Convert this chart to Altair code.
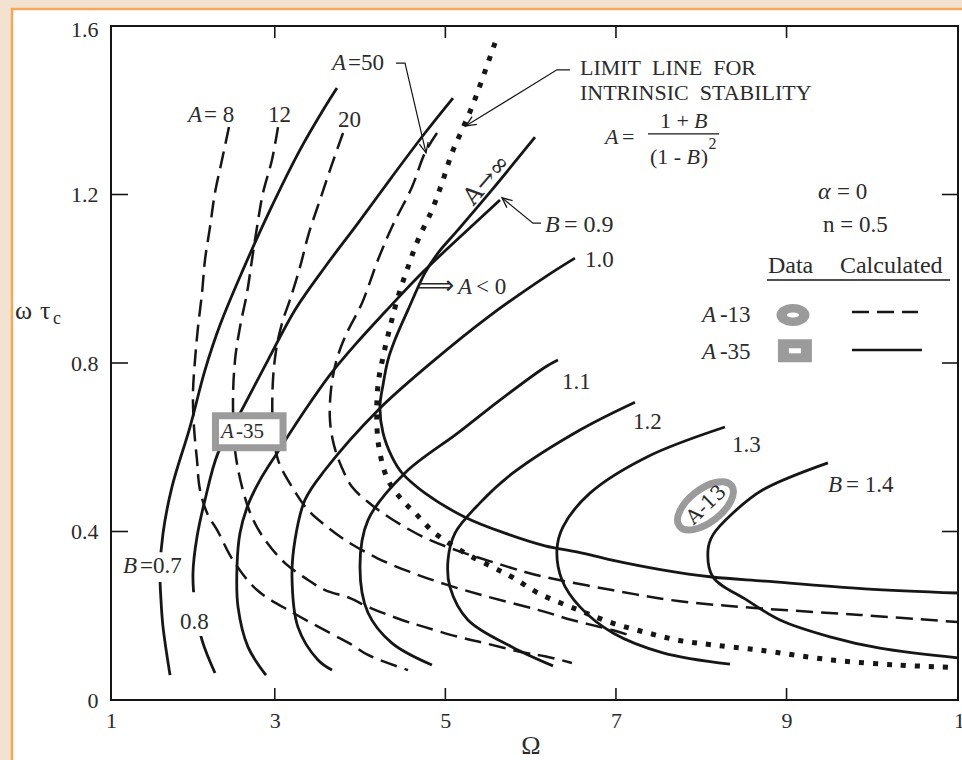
import altair as alt
import pandas as pd

SERIF = "Liberation Serif"
INK = "#161616"
TEXT = "#2b2b2b"
GRAY = "#9b9b9b"
BEIGE = "#f3e2cf"
ORANGE = "#f6a85a"

W, H = 847, 674

# ---- constant-B curves (solid): upper end -> nose -> lower end ----
B07_OMEGA = [3.729, 3.589, 3.296, 2.944, 2.627, 2.358, 2.182, 2.006, 1.795, 1.690, 1.654, 1.666, 1.690, 1.772]
B07_WTC = [1.453, 1.408, 1.306, 1.163, 1.021, 0.890, 0.783, 0.648, 0.506, 0.396, 0.309, 0.237, 0.173, 0.059]

B08_OMEGA = [5.089, 4.761, 4.374, 3.976, 3.589, 3.237, 2.921, 2.569, 2.334, 2.182, 2.088, 2.041, 2.065, 2.147, 2.299]
B08_WTC = [1.429, 1.346, 1.242, 1.132, 1.028, 0.926, 0.807, 0.672, 0.586, 0.475, 0.387, 0.301, 0.226, 0.142, 0.064]

B09_OMEGA = [5.640, 5.171, 4.702, 4.292, 3.940, 3.647, 3.354, 3.026, 2.827, 2.686, 2.592, 2.557, 2.569, 2.686, 2.897]
B09_WTC = [1.187, 1.099, 1.009, 0.921, 0.843, 0.772, 0.688, 0.586, 0.522, 0.463, 0.396, 0.316, 0.221, 0.126, 0.059]

B10_OMEGA = [6.519, 6.168, 5.500, 4.843, 4.210, 3.589, 3.354, 3.237, 3.202, 3.272, 3.507, 3.671]
B10_WTC = [1.049, 1.004, 0.909, 0.802, 0.688, 0.546, 0.475, 0.380, 0.292, 0.173, 0.095, 0.071]

B11_OMEGA = [6.320, 6.168, 5.640, 5.148, 4.527, 4.093, 3.999, 4.093, 4.374, 4.843]
B11_WTC = [0.807, 0.790, 0.712, 0.634, 0.539, 0.427, 0.316, 0.207, 0.135, 0.083]

B12_OMEGA = [7.223, 6.578, 5.793, 5.406, 5.113, 5.031, 5.054, 5.265, 5.781, 6.262]
B12_WTC = [0.707, 0.641, 0.539, 0.468, 0.396, 0.332, 0.268, 0.190, 0.126, 0.081]

B13_OMEGA = [8.278, 7.364, 6.695, 6.379, 6.308, 6.367, 6.578, 6.965, 7.551, 8.337]
B13_WTC = [0.648, 0.577, 0.491, 0.411, 0.356, 0.285, 0.221, 0.159, 0.112, 0.085]

B14_OMEGA = [9.485, 8.723, 8.372, 8.137, 8.079, 8.137, 8.536, 8.923, 9.509, 10.095, 11.010]
B14_WTC = [0.563, 0.499, 0.444, 0.392, 0.356, 0.292, 0.237, 0.190, 0.150, 0.123, 0.100]

# ---- A -> infinity (solid) ----
AINF_OMEGA = [6.051, 5.546, 5.148, 4.913, 4.761, 4.562, 4.409, 4.327, 4.269, 4.233, 4.269, 4.374,
              4.491, 4.761, 5.230, 5.699, 6.168, 6.555, 6.953, 7.539, 8.126, 8.747, 9.919, 11.010]
AINF_WTC = [1.336, 1.211, 1.116, 1.061, 1.014, 0.926, 0.855, 0.807, 0.748, 0.696, 0.634, 0.577,
            0.539, 0.491, 0.434, 0.396, 0.366, 0.351, 0.332, 0.309, 0.292, 0.282, 0.264, 0.254]

# ---- constant-A curves (dashed): upper end -> lower right end ----
A8_OMEGA = [2.463, 2.381, 2.299, 2.241, 2.182, 2.147, 2.100, 2.065, 2.041, 2.053, 2.088, 2.123, 2.217,
            2.323, 2.510, 2.792, 3.214, 3.647, 3.905, 4.093, 4.562]
A8_WTC = [1.360, 1.282, 1.204, 1.123, 1.045, 0.966, 0.885, 0.807, 0.729, 0.648, 0.570, 0.499, 0.439,
          0.404, 0.332, 0.261, 0.207, 0.159, 0.131, 0.107, 0.071]

A12_OMEGA = [3.038, 2.967, 2.862, 2.792, 2.733, 2.674, 2.592, 2.534, 2.510, 2.534, 2.616, 2.733, 2.885,
             3.120, 3.354, 3.589, 3.882, 4.093, 4.491, 4.761, 5.148, 5.464, 5.933, 6.168, 6.484]
A12_WTC = [1.360, 1.282, 1.204, 1.123, 1.045, 0.966, 0.885, 0.807, 0.705, 0.593, 0.506, 0.434, 0.380,
           0.325, 0.290, 0.261, 0.242, 0.221, 0.190, 0.173, 0.150, 0.135, 0.112, 0.104, 0.088]

A20_OMEGA = [3.800, 3.659, 3.530, 3.401, 3.296, 3.178, 3.096, 3.026, 2.979, 2.979, 3.038, 3.202, 3.389,
             3.589, 3.823, 4.198, 4.585, 4.995, 5.464, 6.086, 6.484, 6.953, 7.188]
A20_WTC = [1.346, 1.265, 1.187, 1.109, 1.028, 0.950, 0.902, 0.843, 0.760, 0.648, 0.570, 0.506, 0.451,
           0.415, 0.380, 0.337, 0.304, 0.275, 0.247, 0.214, 0.190, 0.166, 0.152]

A50_OMEGA = [4.902, 4.761, 4.609, 4.374, 4.210, 4.022, 3.823, 3.718, 3.659, 3.647, 3.694, 3.788, 3.905,
             4.093, 4.351, 4.761, 5.148, 5.546, 5.933, 6.168, 6.953, 7.727, 8.665, 9.861, 11.010]
A50_WTC = [1.346, 1.299, 1.218, 1.123, 1.045, 0.942, 0.862, 0.802, 0.736, 0.665, 0.605, 0.551, 0.506,
           0.470, 0.432, 0.385, 0.354, 0.328, 0.304, 0.292, 0.261, 0.235, 0.218, 0.202, 0.185]

# ---- limit line for intrinsic stability (dotted) ----
LIMIT_OMEGA = [5.582, 5.429, 5.312, 5.195, 5.078, 4.960, 4.843, 4.679, 4.562, 4.445, 4.351, 4.269,
               4.210, 4.198, 4.233, 4.327, 4.491, 4.644, 4.878, 5.230, 5.546, 5.781, 6.086, 6.555,
               6.953, 7.340, 7.727, 8.126, 8.665, 9.532, 10.306, 10.892]
LIMIT_WTC = [1.560, 1.472, 1.408, 1.353, 1.299, 1.227, 1.163, 1.092, 1.028, 0.957, 0.885, 0.814,
             0.748, 0.648, 0.586, 0.522, 0.475, 0.444, 0.396, 0.349, 0.316, 0.292, 0.254, 0.214,
             0.183, 0.161, 0.142, 0.131, 0.119, 0.095, 0.083, 0.078]

# ---- axes ----
X_TICKS = [3, 5, 7, 9]
Y_TICKS = [0.4, 0.8, 1.2]
X_LABEL_VALUES = [1.08, 3, 5, 7, 9, 11]
Y_LABEL_VALUES = [0, 0.4, 0.8, 1.2, 1.6]

# ---- annotation text: (text, omega, wtc, font size) ----
ROMAN_LABELS = [
    ("= 8", 2.170, 1.389, 23), ("12", 2.921, 1.389, 23), ("20", 3.741, 1.377, 23),
    ("=50", 3.858, 1.512, 23),
    ("LIMIT\u00a0 LINE\u00a0 FOR", 6.578, 1.500, 22),
    ("INTRINSIC\u00a0 STABILITY", 6.578, 1.441, 22),
    ("=", 7.070, 1.336, 22), ("1 +", 7.516, 1.374, 22), ("(1 -", 7.399, 1.289, 22),
    (")", 7.995, 1.289, 22), ("2", 8.085, 1.320, 16),
    ("= 0", 9.591, 1.206, 23), ("n = 0.5", 9.427, 1.128, 23),
    ("Data", 8.782, 1.030, 24), ("Calculated", 9.626, 1.030, 24),
    ("-13", 8.219, 0.914, 23), ("-35", 8.219, 0.826, 23),
    ("= 0.9", 6.390, 1.128, 24), ("1.0", 6.637, 1.045, 23), ("1.1", 6.367, 0.755, 23),
    ("1.2", 7.199, 0.660, 23), ("1.3", 8.360, 0.605, 23), ("= 1.4", 9.697, 0.510, 23),
    ("=0.7", 1.420, 0.318, 23), ("0.8", 1.889, 0.185, 23), ("< 0", 5.360, 0.980, 23),
    ("-35", 2.545, 0.636, 21),
]
ITALIC_LABELS = [
    ("A", 1.983, 1.389, 23), ("A", 3.671, 1.512, 23), ("A", 6.871, 1.336, 22),
    ("B", 7.915, 1.374, 22), ("B", 7.828, 1.289, 22), ("\u03b1", 9.368, 1.206, 24),
    ("A", 8.008, 0.914, 23), ("A", 8.008, 0.826, 23), ("B", 6.168, 1.128, 24),
    ("B", 9.485, 0.510, 23), ("B", 1.221, 0.318, 23), ("A", 5.148, 0.980, 23),
    ("A", 2.370, 0.636, 21),
]
# (text, omega, wtc, font size, angle)
ROTATED_LABELS = [("A\u2192\u221e", 5.488, 1.234, 24, 311), ("A-13", 8.061, 0.463, 20, 316)]

# leader lines: (leader, omega, wtc) and arrow tips (omega, wtc, heading)
LEADERS = [
    ("a50", 4.421, 1.512), ("a50", 4.527, 1.512), ("a50", 4.773, 1.299),
    ("limit", 6.461, 1.496), ("limit", 6.308, 1.496), ("limit", 5.242, 1.363),
    ("b09", 6.121, 1.132), ("b09", 6.027, 1.132), ("b09", 5.664, 1.192),
]
ARROW_TIPS = [(4.773, 1.299, 167), (5.242, 1.363, 238), (5.664, 1.192, 309)]

# white patches behind curve labels: (omega, omega2, wtc, wtc2)
LABEL_MASKS = [(1.197, 1.994, 0.280, 0.351), (1.877, 2.276, 0.152, 0.256)]

# measured-data markers
A35_BOX = (2.305, 3.097, 0.599, 0.675)
A13_OVAL = (8.049, 0.461)
LEGEND_OVAL = (9.075, 0.914)
LEGEND_SQUARE = (9.098, 0.829)
LEGEND_DASH = (9.767, 10.540, 0.921)
LEGEND_SOLID = (9.767, 10.587, 0.831)
HEADER_RULE = (8.770, 10.916, 0.997)
FRACTION_BAR = (7.375, 8.208, 1.344)

OVAL_RING = "M -1 0 A 1 0.5 0 1 1 1 0 A 1 0.5 0 1 1 -1 0 Z"
OVAL_FULL = "M -1 0 A 1 0.667 0 1 1 1 0 A 1 0.667 0 1 1 -1 0 Z"
SLIT = "M -1 0 A 1 0.42 0 1 1 1 0 A 1 0.42 0 1 1 -1 0 Z"
RECT_FULL = "M -1 -0.68 L 1 -0.68 L 1 0.68 L -1 0.68 Z"
RECT_SLIT = "M -1 -0.42 L 1 -0.42 L 1 0.42 L -1 0.42 Z"
ARROW = "M -0.45 1 L 0 0 L 0.45 1"


def curve_rows(name, style, omegas, wtcs):
    return [{"curve": name, "style": style, "seq": i, "omega": o, "wtc": w}
            for i, (o, w) in enumerate(zip(omegas, wtcs))]


rows = []
for name, om, wt in [("B=0.7", B07_OMEGA, B07_WTC), ("B=0.8", B08_OMEGA, B08_WTC),
                     ("B=0.9", B09_OMEGA, B09_WTC), ("B=1.0", B10_OMEGA, B10_WTC),
                     ("B=1.1", B11_OMEGA, B11_WTC), ("B=1.2", B12_OMEGA, B12_WTC),
                     ("B=1.3", B13_OMEGA, B13_WTC), ("B=1.4", B14_OMEGA, B14_WTC),
                     ("A=inf", AINF_OMEGA, AINF_WTC)]:
    rows += curve_rows(name, "solid", om, wt)
for name, om, wt in [("A=8", A8_OMEGA, A8_WTC), ("A=12", A12_OMEGA, A12_WTC),
                     ("A=20", A20_OMEGA, A20_WTC), ("A=50", A50_OMEGA, A50_WTC)]:
    rows += curve_rows(name, "dashed", om, wt)
rows += curve_rows("limit", "dotted", LIMIT_OMEGA, LIMIT_WTC)
curves = pd.DataFrame(rows)

X_SCALE = alt.Scale(domain=[1.08, 11.01], nice=False, zero=False)
Y_SCALE = alt.Scale(domain=[0, 1.6], nice=False, zero=False)
X_AXIS = alt.Axis(values=X_LABEL_VALUES, labelExpr="datum.value < 2 ? '1' : format(datum.value, 'd')",
                  labelOffset=alt.condition("datum.value > 10", alt.value(7), alt.value(0)),
                  ticks=False, domain=False, grid=False, labelPadding=10, labelFlush=False,
                  title="", zindex=2)
Y_AXIS = alt.Axis(values=Y_LABEL_VALUES, labelExpr="datum.value == 0 ? '0' : format(datum.value, '.1f')",
                  labelOffset=alt.condition("datum.value > 1.5", alt.value(3), alt.value(0)),
                  ticks=False, domain=False, grid=False, labelPadding=13, labelFlush=False,
                  title="", zindex=2)
X = alt.X("omega:Q", scale=X_SCALE, axis=X_AXIS)
Y = alt.Y("wtc:Q", scale=Y_SCALE, axis=Y_AXIS)

one = pd.DataFrame({"k": [0]})

panel = alt.Chart(one).mark_rect(fill="white", stroke=ORANGE, strokeWidth=2.5).encode(
    x=alt.value(-99), x2=alt.value(W + 30), y=alt.value(-17), y2=alt.value(H + 90))

solid = alt.Chart(curves).transform_filter("datum.style == 'solid'").mark_line(
    interpolate="catmull-rom", strokeWidth=2.8, color=INK).encode(
    x=X, y=Y, detail="curve:N", order="seq:Q")
dashed = alt.Chart(curves).transform_filter("datum.style == 'dashed'").mark_line(
    interpolate="catmull-rom", strokeWidth=2.5, color=INK, strokeDash=[17, 8]).encode(
    x=X, y=Y, detail="curve:N", order="seq:Q")
dotted = alt.Chart(curves).transform_filter("datum.style == 'dotted'").mark_line(
    interpolate="catmull-rom", strokeWidth=5, color=INK, strokeDash=[5, 9]).encode(
    x=X, y=Y, detail="curve:N", order="seq:Q")

masks = alt.Chart(pd.DataFrame(LABEL_MASKS, columns=["omega", "omega2", "wtc", "wtc2"])).mark_rect(
    color="white").encode(x=X, x2="omega2:Q", y=Y, y2="wtc2:Q")

box = alt.Chart(pd.DataFrame([A35_BOX], columns=["omega", "omega2", "wtc", "wtc2"])).mark_rect(
    fill="white", stroke=GRAY, strokeWidth=7).encode(x=X, x2="omega2:Q", y=Y, y2="wtc2:Q")

oval = alt.Chart(pd.DataFrame([A13_OVAL], columns=["omega", "wtc"])).mark_point(
    shape=OVAL_RING, size=4356, filled=True, fill="white", stroke=GRAY, strokeWidth=7,
    angle=322, opacity=1).encode(x=X, y=Y)

leg_oval = alt.Chart(pd.DataFrame([LEGEND_OVAL], columns=["omega", "wtc"])).mark_point(
    shape=OVAL_FULL, size=1089, filled=True, color=GRAY, opacity=1).encode(x=X, y=Y)
leg_oval_slit = alt.Chart(pd.DataFrame([LEGEND_OVAL], columns=["omega", "wtc"])).mark_point(
    shape=SLIT, size=144, filled=True, color="white", opacity=1).encode(x=X, y=Y)
leg_square = alt.Chart(pd.DataFrame([LEGEND_SQUARE], columns=["omega", "wtc"])).mark_point(
    shape=RECT_FULL, size=1156, filled=True, color=GRAY, opacity=1).encode(x=X, y=Y)
leg_square_slit = alt.Chart(pd.DataFrame([LEGEND_SQUARE], columns=["omega", "wtc"])).mark_point(
    shape=RECT_SLIT, size=144, filled=True, color="white", opacity=1).encode(x=X, y=Y)

leg_dash = alt.Chart(pd.DataFrame([LEGEND_DASH], columns=["omega", "omega2", "wtc"])).mark_rule(
    strokeWidth=2.6, color=INK, strokeDash=[17, 8]).encode(x=X, x2="omega2:Q", y=Y)
leg_solid = alt.Chart(pd.DataFrame([LEGEND_SOLID], columns=["omega", "omega2", "wtc"])).mark_rule(
    strokeWidth=2.6, color=INK).encode(x=X, x2="omega2:Q", y=Y)
header_rule = alt.Chart(pd.DataFrame([HEADER_RULE], columns=["omega", "omega2", "wtc"])).mark_rule(
    strokeWidth=1.6, color=INK).encode(x=X, x2="omega2:Q", y=Y)
frac_bar = alt.Chart(pd.DataFrame([FRACTION_BAR], columns=["omega", "omega2", "wtc"])).mark_rule(
    strokeWidth=1.3, color=INK).encode(x=X, x2="omega2:Q", y=Y)

lead_df = pd.DataFrame(LEADERS, columns=["lead", "omega", "wtc"])
lead_df["seq"] = range(len(lead_df))
leaders = alt.Chart(lead_df).mark_line(strokeWidth=1.2, color=INK).encode(
    x=X, y=Y, detail="lead:N", order="seq:Q")
arrows = alt.Chart(pd.DataFrame(ARROW_TIPS, columns=["omega", "wtc", "heading"])).mark_point(
    shape=ARROW, size=400, filled=False, stroke=INK, strokeWidth=1.3, opacity=1).encode(
    x=X, y=Y, angle=alt.Angle("heading:Q", scale=None))

roman = alt.Chart(pd.DataFrame(ROMAN_LABELS, columns=["text", "omega", "wtc", "size"])).mark_text(
    align="left", baseline="middle", font=SERIF, color=TEXT).encode(
    x=X, y=Y, text="text:N", size=alt.Size("size:Q", scale=None))
italic = alt.Chart(pd.DataFrame(ITALIC_LABELS, columns=["text", "omega", "wtc", "size"])).mark_text(
    align="left", baseline="middle", font=SERIF, fontStyle="italic", color=TEXT).encode(
    x=X, y=Y, text="text:N", size=alt.Size("size:Q", scale=None))
rotated = alt.Chart(pd.DataFrame(ROTATED_LABELS, columns=["text", "omega", "wtc", "size", "angle"])).mark_text(
    align="center", baseline="middle", font="DejaVu Serif", color=TEXT).encode(
    x=X, y=Y, text="text:N", size=alt.Size("size:Q", scale=None), angle=alt.Angle("angle:Q", scale=None))
double_arrow = alt.Chart(pd.DataFrame([("\u27f9", 4.667, 0.982)], columns=["text", "omega", "wtc"])).mark_text(
    align="left", baseline="middle", font="DejaVu Sans", fontSize=26, color=TEXT).encode(
    x=X, y=Y, text="text:N")

y_title_w = alt.Chart(one).mark_text(align="left", baseline="middle", font=SERIF, fontSize=26,
                                     color=TEXT, text="\u03c9").encode(
    x=alt.value(-96), y=alt.value(285))
y_title_t = alt.Chart(one).mark_text(align="left", baseline="middle", font=SERIF, fontSize=26,
                                     color=TEXT, text="\u03c4").encode(
    x=alt.value(-71), y=alt.value(285))
y_title_sub = alt.Chart(one).mark_text(align="left", baseline="middle", font=SERIF, fontSize=18,
                                       color=TEXT, text="c").encode(
    x=alt.value(-58), y=alt.value(293))
x_title = alt.Chart(one).mark_text(align="center", baseline="middle", font=SERIF, fontSize=26,
                                   color=TEXT, text="\u03a9").encode(
    x=alt.value(420), y=alt.value(720))

frame = alt.Chart(one).mark_rect(fillOpacity=0, stroke=INK, strokeWidth=2).encode(
    x=alt.value(0), x2=alt.value(W), y=alt.value(0), y2=alt.value(H))
xt = pd.DataFrame({"omega": X_TICKS})
yt = pd.DataFrame({"wtc": Y_TICKS})
ticks_bottom = alt.Chart(xt).mark_rule(color=INK, strokeWidth=1.6).encode(
    x=X, y=alt.value(H), y2=alt.value(H - 12))
ticks_top = alt.Chart(xt).mark_rule(color=INK, strokeWidth=1.6).encode(
    x=X, y=alt.value(0), y2=alt.value(12))
ticks_left = alt.Chart(yt).mark_rule(color=INK, strokeWidth=1.6).encode(
    y=Y, x=alt.value(0), x2=alt.value(17))
ticks_right = alt.Chart(yt).mark_rule(color=INK, strokeWidth=1.6).encode(
    y=Y, x=alt.value(W), x2=alt.value(W - 16))

chart = alt.layer(
    panel, solid, dashed, dotted, masks, box, oval,
    leg_oval, leg_oval_slit, leg_square, leg_square_slit, leg_dash, leg_solid, header_rule, frac_bar,
    leaders, arrows, roman, italic, rotated, double_arrow,
    y_title_w, y_title_t, y_title_sub, x_title,
    frame, ticks_bottom, ticks_top, ticks_left, ticks_right,
).properties(
    width=W, height=H,
    autosize=alt.AutoSizeParams(type="none"),
    padding={"left": 111, "top": 26, "right": 4, "bottom": 60},
    background=BEIGE,
).configure_view(stroke="transparent").configure_axis(
    labelFont=SERIF, labelFontSize=22, labelColor=TEXT)

chart.save("out.html", embed_options={"renderer": "svg", "actions": False})
